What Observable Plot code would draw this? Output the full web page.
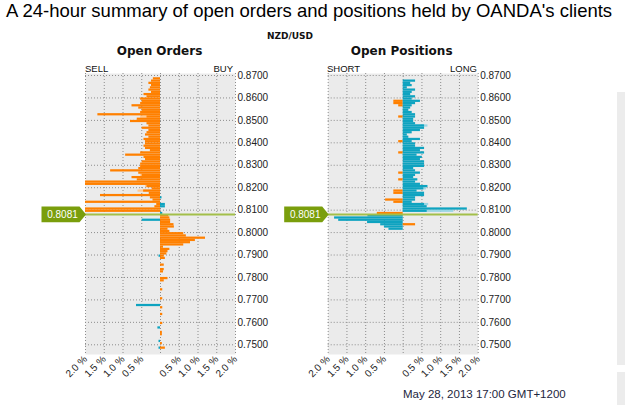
<!DOCTYPE html>
<html>
<head>
<meta charset="utf-8">
<script src="https://cdn.jsdelivr.net/npm/d3@7"></script>
<script src="https://cdn.jsdelivr.net/npm/@observablehq/plot@0.6"></script>
<style>
  body { margin: 0; background: #fff; }
  #page { position: relative; width: 625px; height: 405px; overflow: hidden;
          font-family: "Liberation Sans", Arial, sans-serif; color: #111; }
  .t { position: absolute; white-space: nowrap; line-height: 1; }
  .bold { font-family: "DejaVu Sans", Verdana, sans-serif; font-weight: bold; }
  .center { text-align: center; width: 200px; }
  .side { position: absolute; background: #ececec; }
</style>
</head>
<body>
<div id="page">
  <div class="t" style="left:6px; top:2.3px; font-size:18.5px; color:#000;">A 24-hour summary of open orders and positions held by OANDA's clients</div>
  <div class="t bold center" style="left:190px; top:32.4px; font-size:9px;">NZD/USD</div>
  <div class="t bold center" style="left:59.5px; top:44.8px; font-size:12px;">Open Orders</div>
  <div class="t bold center" style="left:301.7px; top:44.8px; font-size:12px;">Open Positions</div>
  <div class="t" style="left:85px; top:63.6px; font-size:9.5px;">SELL</div>
  <div class="t" style="right:392px; top:63.6px; font-size:9.5px;">BUY</div>
  <div class="t" style="left:327px; top:63.6px; font-size:9.5px;">SHORT</div>
  <div class="t" style="right:148px; top:63.6px; font-size:9.5px;">LONG</div>
  <div class="t" style="left:403px; top:388.5px; font-size:11.5px; color:#1d2640;">May 28, 2013 17:00 GMT+1200</div>
  <div class="side" style="left:617px; top:92px; width:8px; height:273px;"></div>
  <div class="side" style="left:617px; top:372px; width:8px; height:33px;"></div>
</div>
<script>
// Price buckets are 0.001 wide; each value is the share (%) of clients' orders/positions.
const step = 0.001;
const current = 0.8081;

const xTicks = [-2, -1.5, -1, -0.5, 0.5, 1, 1.5, 2];
const xGrid = [-2, -1.5, -1, -0.5, 0, 0.5, 1, 1.5, 2];
const yTicks = [0.75, 0.76, 0.77, 0.78, 0.79, 0.80, 0.81, 0.82, 0.83, 0.84, 0.85, 0.86, 0.87];

// Open orders: sell side (negative) and buy side (positive)
const orderLevels = [
  0.868, 0.867, 0.866, 0.865, 0.864, 0.863, 0.862, 0.861, 0.860, 0.859,
  0.858, 0.857, 0.856, 0.855, 0.854, 0.853, 0.852, 0.851, 0.850, 0.849,
  0.848, 0.847, 0.846, 0.845, 0.844, 0.843, 0.842, 0.841, 0.840, 0.839,
  0.838, 0.837, 0.836, 0.835, 0.834, 0.833, 0.832, 0.831, 0.830, 0.829,
  0.828, 0.827, 0.826, 0.825, 0.824, 0.823, 0.822, 0.821, 0.820, 0.819,
  0.818, 0.817, 0.816, 0.815, 0.814, 0.813, 0.812, 0.811, 0.810, 0.809,
  0.808, 0.807, 0.806, 0.805, 0.804, 0.803, 0.802, 0.801, 0.800, 0.799,
  0.798, 0.797, 0.796, 0.795, 0.794, 0.793, 0.792, 0.791, 0.790, 0.789,
  0.788, 0.785, 0.783, 0.782, 0.779, 0.778, 0.774, 0.770, 0.767, 0.766,
  0.763, 0.759, 0.757, 0.755, 0.754, 0.751, 0.750, 0.748
];
const orderSell = [
  -0.19, -0.24, -0.31, -0.24, -0.27, -0.31, -0.24, -0.44, -0.36, -0.53,
  -0.49, -0.53, -0.76, -0.58, -0.49, -0.53, -1.67, -0.36, -0.62, -0.80,
  -0.36, -0.31, -0.49, -0.31, -0.36, -0.40, -0.31, -0.44, -0.40, -0.40,
  -0.44, -0.40, -0.27, -0.53, -0.93, -0.44, -0.40, -0.49, -0.53, -0.53,
  -0.58, -1.33, -0.58, -0.49, -0.76, -0.62, -2.00, -2.00, -0.36, -0.22,
  -0.45, -0.30, -1.60, -0.27, -0.20, -2.00, -0.10, -0.15, -2.00, -2.00,
  0, 0, 0, -0.49, 0, 0, 0, 0, 0, 0,
  0, 0, 0, 0, 0, 0, 0, 0, 0, -0.04,
  0, 0, 0, 0, 0, 0, 0, 0, -0.64, 0,
  0, 0, -0.07, 0, 0, -0.04, 0, -0.04
];
const orderBuy = [
  0, 0, 0, 0, 0, 0, 0, 0, 0, 0,
  0, 0, 0, 0, 0, 0, 0, 0, 0, 0,
  0, 0, 0, 0, 0, 0, 0, 0, 0, 0,
  0, 0, 0, 0, 0, 0, 0, 0, 0, 0,
  0, 0, 0, 0, 0, 0, 0, 0, 0, 0,
  0, 0, 0, 0.04, 0, 0, 0.13, 0.13, 0, 0,
  0.06, 0.22, 0.25, 0.27, 0.27, 0.36, 0.37, 0.20, 0.25, 0.62,
  0.69, 1.20, 0.93, 0.80, 0.62, 0.08, 0.25, 0.20, 0.17, 0.10,
  0.13, 0.10, 0.10, 0.08, 0.20, 0.10, 0.06, 0.06, 0, 0.06,
  0.06, 0.06, 0, 0.05, 0.05, 0, 0.05, 0.13
];
// Orders 24 hours earlier (lighter bars)
const orderPriorLevels = [0.851, 0.825, 0.820, 0.818];
const orderPriorValues = [-0.53, -0.53, -0.40, -0.60];

// Open positions: short side (negative) and long side (positive)
const positionLevels = [
  0.867, 0.866, 0.865, 0.864, 0.863, 0.862, 0.861, 0.860, 0.859, 0.858,
  0.857, 0.856, 0.855, 0.854, 0.853, 0.852, 0.851, 0.850, 0.849, 0.848,
  0.847, 0.846, 0.845, 0.844, 0.843, 0.842, 0.841, 0.840, 0.839, 0.838,
  0.837, 0.836, 0.835, 0.834, 0.833, 0.832, 0.831, 0.830, 0.829, 0.828,
  0.827, 0.826, 0.825, 0.824, 0.823, 0.822, 0.821, 0.820, 0.819, 0.818,
  0.817, 0.816, 0.815, 0.814, 0.813, 0.812, 0.811, 0.810, 0.809, 0.808,
  0.807, 0.806, 0.805, 0.804, 0.803, 0.802, 0.801
];
const positionShort = [
  0, 0, 0, 0, 0, 0, 0, 0, 0, -0.25,
  -0.25, -0.12, 0, 0, 0, 0, -0.12, 0, 0, 0,
  0, 0, 0, 0, 0, 0, 0, -0.12, 0, 0,
  0, 0, -0.12, 0, 0, 0, 0, 0, 0, 0,
  0, -0.12, 0, 0, -0.12, 0, 0, 0, 0, -0.25,
  -0.25, 0, 0, -0.47, -0.25, 0, 0, 0, 0, -0.69,
  -0.94, -1.83, -1.72, -0.95, -0.60, -0.50, -0.38
];
const positionLong = [
  0.33, 0.20, 0.24, 0.11, 0.33, 0.24, 0.20, 0.33, 0.24, 0.46,
  0.33, 0.24, 0.20, 0.15, 0.24, 0.33, 0.33, 0.28, 0.28, 0.33,
  0.57, 0.57, 0.46, 0.24, 0.11, 0.15, 0.46, 0.24, 0.33, 0.33,
  0.57, 0.46, 0.57, 0.37, 0.51, 0.46, 0.57, 0.57, 0.57, 0.28,
  0.33, 0.46, 0.33, 0.28, 0.39, 0.33, 0.46, 0.66, 0.55, 0.37,
  0.57, 0.57, 0.33, 0.33, 0.24, 0.57, 0.64, 1.71, 0.64, 0,
  0, 0, 0, 0, 0.33, 0, 0
];
// Positions 24 hours earlier (lighter bars)
const positionPriorLevels = [0.847, 0.819, 0.812, 0.809];
const positionPriorValues = [0.66, 0.62, 0.68, 1.35];

const tagSymbol = {
  draw(context) {
    context.moveTo(-44, -7.8);
    context.lineTo(-6, -7.8);
    context.lineTo(0.5, 0);
    context.lineTo(-6, 7.8);
    context.lineTo(-44, 7.8);
    context.closePath();
  }
};

// Orange: in-the-money side of the price; blue: the other side
const tone = d => ((d.price + step / 2 > current) === (d.value < 0)) ? "in" : "out";

function panel(levels, left, right, priorLevels, priorValues, marginLeft, marginRight) {
  const bars = levels
    .flatMap((p, i) => [{price: p, value: left[i]}, {price: p, value: right[i]}])
    .filter(d => d.value !== 0);
  const prior = priorLevels.map((p, i) => ({price: p, value: priorValues[i]}));
  return Plot.plot({
    width: 625,
    height: 405,
    marginTop: 73,
    marginBottom: 51,
    marginLeft,
    marginRight,
    style: {
      position: "absolute", left: "0px", top: "0px",
      background: "transparent",
      fontFamily: "'Liberation Sans', Arial, sans-serif",
      fontSize: "10px",
      color: "#222"
    },
    x: {
      domain: [-2, 2],
      ticks: xTicks,
      tickFormat: d => Math.abs(d).toFixed(1) + " %",
      tickRotate: -45,
      tickSize: 0,
      tickPadding: 3,
      label: null
    },
    y: {
      domain: [0.74567, 0.87089],
      ticks: yTicks,
      tickFormat: d3.format(".4f"),
      axis: "right",
      tickSize: 0,
      tickPadding: 2,
      label: null
    },
    color: {
      domain: ["in", "out", "inPrior", "outPrior"],
      range: ["#ff8000", "#0ea3c0", "#ffc994", "#9ad6e4"]
    },
    marks: [
      Plot.frame({fill: "#ebebeb"}),
      Plot.ruleX(xGrid, {stroke: "#8c8c8c", strokeDasharray: "1,2"}),
      Plot.ruleY(yTicks, {stroke: "#8c8c8c", strokeDasharray: "1,2"}),
      Plot.rect(prior, {
        x1: () => 0, x2: "value", y1: "price", y2: d => d.price + step,
        fill: d => tone(d) + "Prior"
      }),
      Plot.rect(bars, {
        x1: () => 0, x2: "value", y1: "price", y2: d => d.price + step,
        fill: tone
      }),
      Plot.ruleY([current], {stroke: "#a3bf4a", strokeWidth: 2}),
      Plot.dot([current], {x: () => -2, y: d => d, symbol: tagSymbol, r: 5, fill: "#7a9e0c"}),
      Plot.text([current], {
        x: () => -2, y: d => d, dx: -23, text: d => d.toFixed(4),
        fill: "white", fontSize: 10
      })
    ]
  });
}

const page = document.getElementById("page");
page.appendChild(panel(orderLevels, orderSell, orderBuy, orderPriorLevels, orderPriorValues, 85, 390));
page.appendChild(panel(positionLevels, positionShort, positionLong, positionPriorLevels, positionPriorValues, 327.7, 147.3));
</script>
</body>
</html>
